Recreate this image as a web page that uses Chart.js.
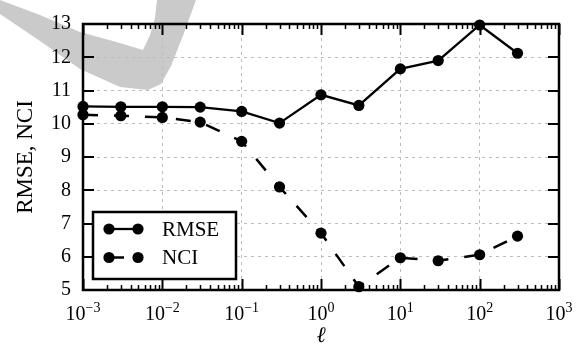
<!DOCTYPE html>
<html>
<head>
<meta charset="utf-8">
<script src="https://cdn.jsdelivr.net/npm/chart.js"></script>
<style>
  html, body { margin: 0; padding: 0; background: #fff; }
</style>
</head>
<body>
<canvas id="myChart" width="582" height="350"></canvas>
<script>
// data
const lengthScales = [0.001, 0.003, 0.01, 0.03, 0.1, 0.3, 1, 3, 10, 30, 100, 300];
const rmseValues = [10.52, 10.51, 10.51, 10.50, 10.37, 10.02, 10.87, 10.55, 11.65, 11.9, 12.97, 12.12];
const nciValues = [10.27, 10.24, 10.19, 10.05, 9.47, 8.1, 6.71, 5.1, 5.97, 5.88, 6.06, 6.62];
const xExponents = [-3, -2, -1, 0, 1, 2, 3];
const yTicks = [5, 6, 7, 8, 9, 10, 11, 12, 13];

const serif = "'Liberation Serif', 'Times New Roman', serif";
const gridGray = '#bdbdbd';

function isMajor(v) {
    const l = Math.log10(v);
    return Math.abs(l - Math.round(l)) < 1e-6;
}

// grey brush stroke in the top left corner
const watermark = [[0, 0], [40, 15], [80, 32], [120, 43], [143, 50], [150, 35], [155, 18], [157, 0],
    [196, 0], [184, 33], [171, 66], [161, 84], [148, 90], [120, 87], [80, 69], [40, 41], [0, 14]];

const decor = {
    id: 'decor',
    beforeDraw(chart) {
        const ctx = chart.ctx;
        ctx.save();
        ctx.fillStyle = '#fff';
        ctx.fillRect(0, 0, chart.width, chart.height);
        ctx.fillStyle = '#cacaca';
        ctx.beginPath();
        watermark.forEach((p, i) => i ? ctx.lineTo(p[0], p[1]) : ctx.moveTo(p[0], p[1]));
        ctx.closePath();
        ctx.fill();
        ctx.restore();
    },
    beforeDatasetsDraw(chart) {
        const ctx = chart.ctx;
        const a = chart.chartArea;
        const xs = chart.scales.x, ys = chart.scales.y;
        ctx.save();
        ctx.strokeStyle = '#000';
        // x ticks, inward, bottom and top
        xs.ticks.forEach(t => {
            const px = Math.round(xs.getPixelForValue(t.value)) + 0.5;
            const len = isMajor(t.value) ? 11 : 5;
            ctx.lineWidth = isMajor(t.value) ? 2 : 1.5;
            ctx.beginPath();
            ctx.moveTo(px, a.bottom); ctx.lineTo(px, a.bottom - len);
            ctx.moveTo(px, a.top); ctx.lineTo(px, a.top + len);
            ctx.stroke();
        });
        // y ticks, inward, left and right
        ctx.lineWidth = 2;
        ys.ticks.forEach(t => {
            const py = Math.round(ys.getPixelForValue(t.value));
            ctx.beginPath();
            ctx.moveTo(a.left, py); ctx.lineTo(a.left + 11, py);
            ctx.moveTo(a.right, py); ctx.lineTo(a.right - 11, py);
            ctx.stroke();
        });
        ctx.lineWidth = 2.5;
        ctx.strokeRect(a.left, a.top, a.right - a.left, a.bottom - a.top);
        ctx.restore();
    },
    afterDraw(chart) {
        const ctx = chart.ctx;
        const xs = chart.scales.x;
        ctx.save();
        ctx.fillStyle = '#000';
        ctx.textBaseline = 'alphabetic';
        ctx.textAlign = 'left';
        // x tick labels 10^e
        xExponents.forEach(e => {
            const px = xs.getPixelForValue(Math.pow(10, e));
            const sup = e < 0 ? '\u2212' + (-e) : String(e);
            ctx.font = '20px ' + serif;
            const wBase = ctx.measureText('10').width;
            ctx.font = '14px ' + serif;
            const wSup = ctx.measureText(sup).width;
            const x0 = px - (wBase + wSup) / 2;
            ctx.font = '20px ' + serif;
            ctx.fillText('10', x0, 320);
            ctx.font = '14px ' + serif;
            ctx.fillText(sup, x0 + wBase, 312);
        });

        // legend box
        const box = { left: 93, top: 212, right: 236, bottom: 279 };
        ctx.fillStyle = '#fff';
        ctx.fillRect(box.left, box.top, box.right - box.left, box.bottom - box.top);
        ctx.strokeStyle = '#000';
        ctx.lineWidth = 2.5;
        ctx.strokeRect(box.left, box.top, box.right - box.left, box.bottom - box.top);
        chart.data.datasets.forEach((ds, i) => {
            const y = 229 + i * 28.5;
            ctx.strokeStyle = ds.borderColor;
            ctx.lineWidth = ds.borderWidth;
            ctx.setLineDash(ds.borderDash || []);
            ctx.beginPath();
            ctx.moveTo(109, y); ctx.lineTo(138, y);
            ctx.stroke();
            ctx.setLineDash([]);
            ctx.fillStyle = ds.pointBackgroundColor;
            [109, 138].forEach(mx => {
                ctx.beginPath();
                ctx.arc(mx, y, ds.pointRadius, 0, Math.PI * 2);
                ctx.fill();
            });
            ctx.fillStyle = '#000';
            ctx.font = '21px ' + serif;
            ctx.textBaseline = 'middle';
            ctx.fillText(ds.label, 162, y + 1);
        });
        ctx.restore();
    }
};

const ctx = document.getElementById('myChart');

new Chart(ctx, {
    type: 'line',
    data: {
        datasets: [{
            label: 'RMSE',
            data: lengthScales.map((x, i) => ({ x: x, y: rmseValues[i] })),
            borderColor: '#000',
            borderWidth: 2.3,
            pointRadius: 5.6,
            pointBorderWidth: 0,
            pointBackgroundColor: '#000',
            pointBorderColor: '#000',
            tension: 0,
            clip: false
        }, {
            label: 'NCI',
            data: lengthScales.map((x, i) => ({ x: x, y: nciValues[i] })),
            borderColor: '#000',
            borderWidth: 2.5,
            borderDash: [15, 16],
            pointRadius: 5.6,
            pointBorderWidth: 0,
            pointBackgroundColor: '#000',
            pointBorderColor: '#000',
            tension: 0,
            clip: false
        }]
    },
    options: {
        responsive: false,
        animation: false,
        devicePixelRatio: 1,
        layout: { padding: { top: 14, right: 23, bottom: 0, left: 0 } },
        plugins: {
            legend: { display: false },
            tooltip: { enabled: false }
        },
        scales: {
            x: {
                type: 'logarithmic',
                min: Math.pow(10, xExponents[0]),
                max: Math.pow(10, xExponents[xExponents.length - 1]),
                afterBuildTicks(scale) {
                    const ticks = [];
                    for (let k = 0; k < xExponents.length - 1; k++) {
                        for (let m = 1; m < 10; m++) ticks.push({ value: m * Math.pow(10, xExponents[k]) });
                    }
                    ticks.push({ value: Math.pow(10, xExponents[xExponents.length - 1]) });
                    scale.ticks = ticks;
                },
                afterFit(scale) { scale.height = 60; },
                ticks: { display: false },
                grid: {
                    color: c => (c.tick && isMajor(c.tick.value)) ? gridGray : 'rgba(0,0,0,0)',
                    lineWidth: 1,
                    drawTicks: false
                },
                border: { display: false, dash: [3, 4] },
                title: {
                    display: true,
                    text: '\u2113',
                    color: '#000',
                    font: { family: serif, size: 22, style: 'italic' },
                    padding: { top: 0, bottom: 1 }
                }
            },
            y: {
                min: yTicks[0],
                max: yTicks[yTicks.length - 1],
                afterBuildTicks(scale) {
                    scale.ticks = yTicks.map(v => ({ value: v }));
                },
                afterFit(scale) { scale.width = 83; },
                ticks: {
                    color: '#000',
                    font: { family: serif, size: 20 },
                    padding: 12
                },
                grid: { color: gridGray, lineWidth: 1, drawTicks: false },
                border: { display: false, dash: [3, 4] },
                title: {
                    display: true,
                    text: 'RMSE, NCI',
                    color: '#000',
                    font: { family: serif, size: 23 },
                    padding: { top: 12, bottom: 0 }
                }
            }
        }
    },
    plugins: [decor]
});
</script>
</body>
</html>
